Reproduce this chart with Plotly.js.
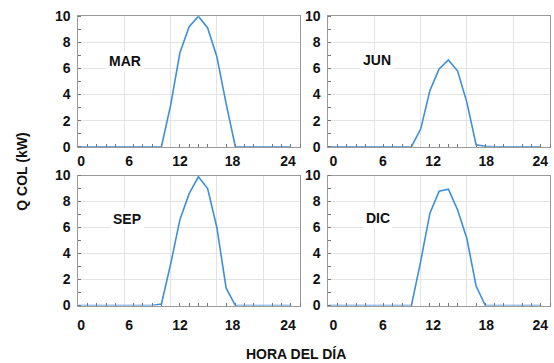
<!DOCTYPE html>
<html>
<head>
<meta charset="utf-8">
<script src="https://cdn.plot.ly/plotly-3.0.1.min.js"></script>
<style>html,body{margin:0;padding:0;background:#fff;}#chart{width:554px;height:363px;}</style>
</head>
<body>
<div id="chart"></div>
<script>
// Hour of day (data points)
const hours = [0,1,2,3,4,5,6,7,8,9,10,11,12,13,14,15,16,17,18,19,20,21,22,23];
// Collector heat output Q COL (kW) per month
const mar = [0,0,0,0,0,0,0,0,0,0,3.2,7.2,9.2,10.0,9.1,6.9,3.3,0,0,0,0,0,0,0];
const jun = [0,0,0,0,0,0,0,0,0,0,1.35,4.3,5.95,6.65,5.8,3.4,0.15,0.03,0,0,0,0,0,0];
const sep = [0,0,0,0,0,0,0,0,0,0.12,3.2,6.6,8.6,9.9,9.0,6.0,1.35,0,0,0,0,0,0,0];
const dic = [0,0,0,0,0,0,0,0,0,0,3.4,7.1,8.8,8.95,7.35,5.15,1.5,0,0,0,0,0,0,0];
const months = ["MAR","JUN","SEP","DIC"];
const series = [mar, jun, sep, dic];
const xTickText = ["0","6","12","18","24"];
const yTickVals = [0,2,4,6,8,10];

const FONT = "Liberation Sans, Arial, sans-serif";
const lineColor = "#3d8fdc";
const frame = "#9a9a9a";
const grid = "#e3e3e3";

// panel geometry (paper fractions)
const xDomL = [78.3/554, 300/554], xDomR = [328.3/554, 550/554];
const yDomT = [216.3/363, 346.8/363], yDomB = [57.5/363, 187.5/363];
const doms = [[xDomL,yDomT],[xDomR,yDomT],[xDomL,yDomB],[xDomR,yDomB]];
// label positions along hour axis (the original labels sit off the gridlines)
const labPosL = [0.3,5.5,11.0,16.7,22.7];
const labPosR = [0.55,5.9,11.35,17.1,22.95];

const data = [];
const layout = {
  width:554, height:363,
  margin:{l:0,r:0,t:0,b:0},
  paper_bgcolor:"#fff", plot_bgcolor:"#fff",
  showlegend:false,
  font:{family:FONT, size:14, color:"#111", weight:"bold"},
  annotations:[]
};

const mlab = [[0.21,0.655],[0.22,0.667],[0.218,0.665],[0.2255,0.67]];

for (let i=0;i<4;i++){
  const n = i+1, lab = i+5;
  const xk = n===1?"x":"x"+n, yk = n===1?"y":"y"+n;
  data.push({x:hours, y:series[i], xaxis:xk, yaxis:yk, type:"scatter", mode:"lines",
    line:{color:lineColor,width:1.6}, hoverinfo:"x+y"});
  // empty trace so the label axis exists
  data.push({x:[], y:[], xaxis:"x"+lab, yaxis:yk, type:"scatter", mode:"lines", hoverinfo:"skip"});
  const [xd,yd] = doms[i];
  layout[(n===1?"xaxis":"xaxis"+n)] = {
    domain:xd, anchor:yk, range:[0,24], fixedrange:true,
    tickmode:"linear", tick0:0, dtick:5, showticklabels:false, ticks:"",
    showgrid:true, gridcolor:grid, gridwidth:1, zeroline:false,
    showline:true, linecolor:frame, linewidth:1, mirror:true,
    minor:{dtick:1, tick0:0, ticks:"inside", ticklen:3, tickcolor:"#777", showgrid:false}
  };
  layout["xaxis"+lab] = {
    domain:xd, anchor:yk, overlaying:xk, side:"bottom", range:[0,24], fixedrange:true,
    tickmode:"array", tickvals:(i%2===0?labPosL:labPosR), ticktext:xTickText,
    ticks:"", showgrid:false, zeroline:false, showline:false,
    ticklabelstandoff:(i<2?4:9),
    tickfont:{family:FONT,size:14,color:"#111",weight:"bold"}
  };
  layout[(n===1?"yaxis":"yaxis"+n)] = {
    domain:yd, anchor:xk, range:[0,10], fixedrange:true,
    tickmode:"array", tickvals:yTickVals, ticks:"",
    showgrid:true, gridcolor:grid, gridwidth:1, zeroline:false,
    showline:true, linecolor:frame, linewidth:1, mirror:true,
    ticklabelstandoff:4,
    tickfont:{family:FONT,size:14,color:"#111",weight:"bold"},
    minor:{dtick:1, tick0:0, ticks:"inside", ticklen:3, tickcolor:"#777", showgrid:false}
  };
  layout.annotations.push({
    text:months[i], xref:xk+" domain", yref:yk+" domain", x:mlab[i][0], y:mlab[i][1],
    xanchor:"center", yanchor:"middle",
    showarrow:false, bgcolor:"#fff", borderpad:2,
    font:{family:FONT,size:14,color:"#111",weight:"bold"}
  });
}

layout.annotations.push({
  text:"Q COL (kW)", xref:"paper", yref:"paper", x:21.7/554, y:(363-172)/363,
  xanchor:"center", yanchor:"middle",
  textangle:-90, showarrow:false, font:{family:FONT,size:14,color:"#111",weight:"bold"}
});
layout.annotations.push({
  text:"HORA DEL DÍA", xref:"paper", yref:"paper", x:295.5/554, y:(363-354)/363,
  xanchor:"center", yanchor:"middle",
  showarrow:false, font:{family:FONT,size:14,color:"#111",weight:"bold"}
});

Plotly.newPlot("chart", data, layout, {displayModeBar:false, staticPlot:true});
</script>
</body>
</html>
